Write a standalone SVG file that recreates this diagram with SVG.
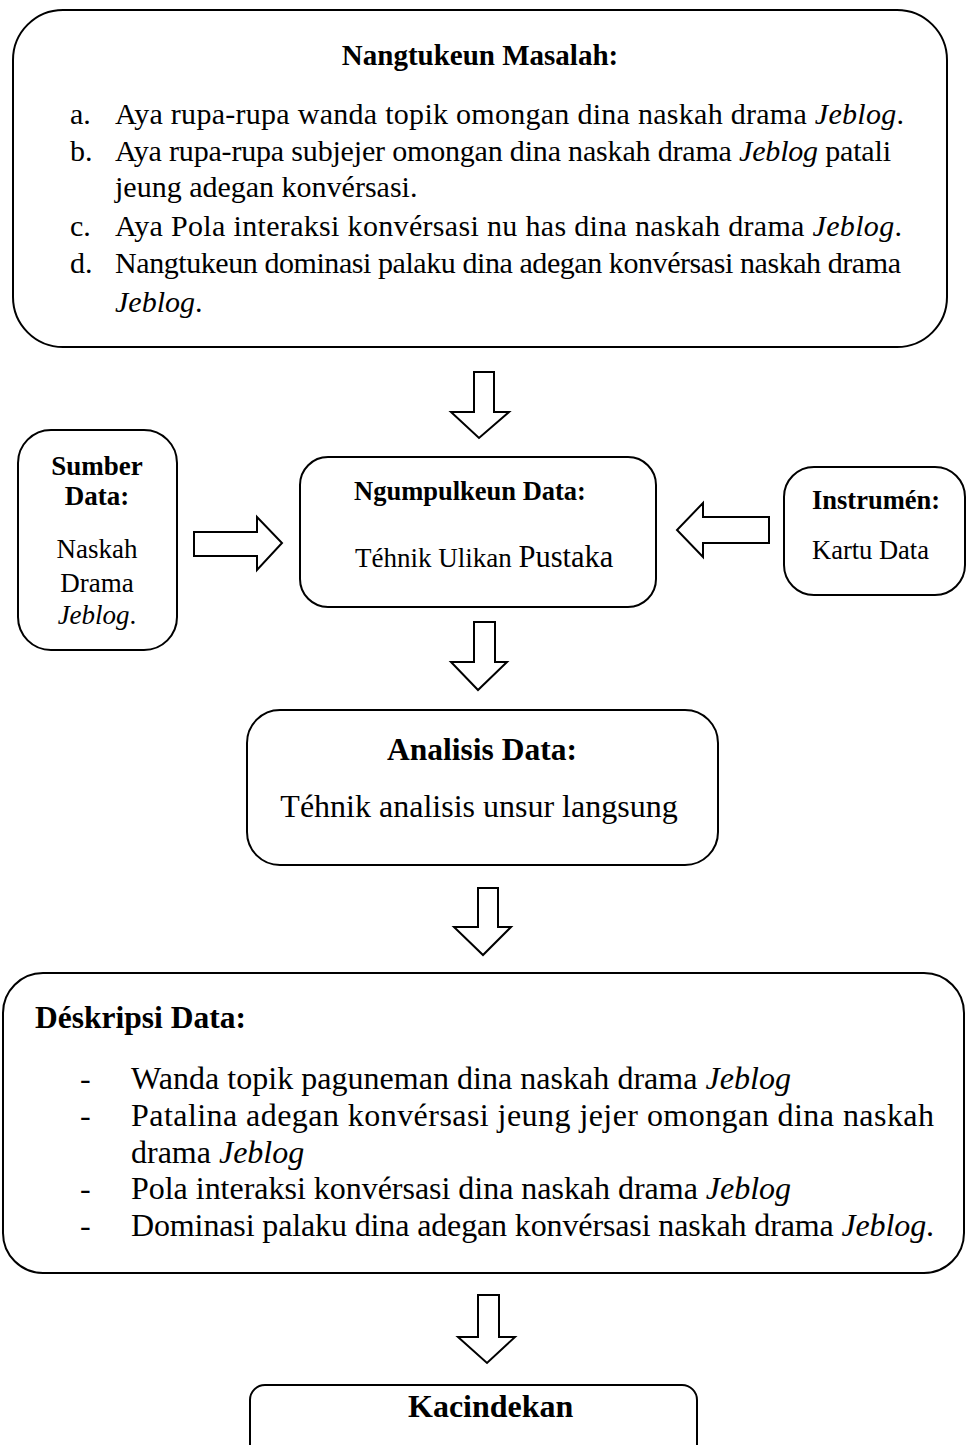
<svg xmlns="http://www.w3.org/2000/svg" width="966" height="1445" viewBox="0 0 966 1445">
<style>
.box{fill:#fff;stroke:#000;stroke-width:2}
.arr{fill:#fff;stroke:#000;stroke-width:2;stroke-linejoin:miter}
text{font-family:"Liberation Serif","Times New Roman",serif;fill:#000}
.b{font-weight:bold}
.i{font-style:italic}
</style>
<rect width="966" height="1445" fill="#fff"/>
<g id="connectors">
<polygon class="arr" points="474,372 494,372 494,412 509,412 479,438 451,412 474,412"/>
<polygon class="arr" points="194,532 257,532 257,517 282,543 257,570 257,556 194,556"/>
<polygon class="arr" points="769,517 703,517 703,503 677,530 703,557 703,543 769,543"/>
<polygon class="arr" points="474,622 495,622 495,662 507,662 478,690 451,662 474,662"/>
<polygon class="arr" points="478,888 498,888 498,927 511,927 483,955 454,927 478,927"/>
<polygon class="arr" points="478,1295 499,1295 499,1337 515,1337 487,1363 458,1337 478,1337"/>
</g>
<g id="masalah">
<rect class="box" x="13" y="10" width="934" height="337" rx="50" ry="50"/>
<text class="b" x="480" y="65" font-size="29" text-anchor="middle">Nangtukeun Masalah:</text>
<g font-size="30">
<text x="70" y="124">a.</text>
<text x="115" y="124" textLength="789">Aya rupa-rupa wanda topik omongan dina naskah drama <tspan class="i">Jeblog</tspan>.</text>
<text x="70" y="161">b.</text>
<text x="115" y="161" textLength="776">Aya rupa-rupa subjejer omongan dina naskah drama <tspan class="i">Jeblog</tspan> patali</text>
<text x="115" y="197">jeung adegan konvérsasi.</text>
<text x="70" y="236">c.</text>
<text x="115" y="236" textLength="787">Aya Pola interaksi konvérsasi nu has dina naskah drama <tspan class="i">Jeblog</tspan>.</text>
<text x="70" y="273">d.</text>
<text x="115" y="273" textLength="786">Nangtukeun dominasi palaku dina adegan konvérsasi naskah drama</text>
<text x="115" y="312"><tspan class="i">Jeblog</tspan>.</text>
</g>
</g>
<g id="sumber">
<rect class="box" x="18" y="430" width="159" height="220" rx="33" ry="33"/>
<g font-size="27" text-anchor="middle">
<text class="b" x="97" y="475">Sumber</text>
<text class="b" x="97" y="505">Data:</text>
<text x="97" y="558">Naskah</text>
<text x="97" y="592">Drama</text>
<text x="97" y="624"><tspan class="i">Jeblog</tspan>.</text>
</g>
</g>
<g id="ngumpulkeun">
<rect class="box" x="300" y="457" width="356" height="150" rx="28" ry="28"/>
<text class="b" x="354" y="500" font-size="26.5">Ngumpulkeun Data:</text>
<text x="355" y="567" font-size="27">Téhnik Ulikan <tspan font-size="30.5">Pustaka</tspan></text>
</g>
<g id="instrumen">
<rect class="box" x="784" y="467" width="181" height="128" rx="30" ry="30"/>
<text class="b" x="812" y="509" font-size="26.5">Instrumén:</text>
<text x="812" y="559" font-size="26.5">Kartu Data</text>
</g>
<g id="analisis">
<rect class="box" x="247" y="710" width="471" height="155" rx="33" ry="33"/>
<text class="b" x="482" y="760" font-size="31.5" text-anchor="middle">Analisis Data:</text>
<text x="479" y="817" font-size="32" text-anchor="middle">Téhnik analisis unsur langsung</text>
</g>
<g id="deskripsi">
<rect class="box" x="3" y="973" width="961" height="300" rx="40" ry="40"/>
<text class="b" x="35" y="1028" font-size="31.5">Déskripsi Data:</text>
<g font-size="32">
<text x="80" y="1089">-</text>
<text x="131" y="1089" textLength="660">Wanda topik paguneman dina naskah drama <tspan class="i">Jeblog</tspan></text>
<text x="80" y="1126">-</text>
<text x="131" y="1126" textLength="803">Patalina adegan konvérsasi jeung jejer omongan dina naskah</text>
<text x="131" y="1163">drama <tspan class="i">Jeblog</tspan></text>
<text x="80" y="1199">-</text>
<text x="131" y="1199" textLength="660">Pola interaksi konvérsasi dina naskah drama <tspan class="i">Jeblog</tspan></text>
<text x="80" y="1236">-</text>
<text x="131" y="1236" textLength="803">Dominasi palaku dina adegan konvérsasi naskah drama <tspan class="i">Jeblog</tspan>.</text>
</g>
</g>
<g id="kacindekan">
<rect class="box" x="250" y="1385" width="447" height="90" rx="15" ry="15"/>
<text class="b" x="408" y="1417" font-size="32">Kacindekan</text>
</g>
</svg>
